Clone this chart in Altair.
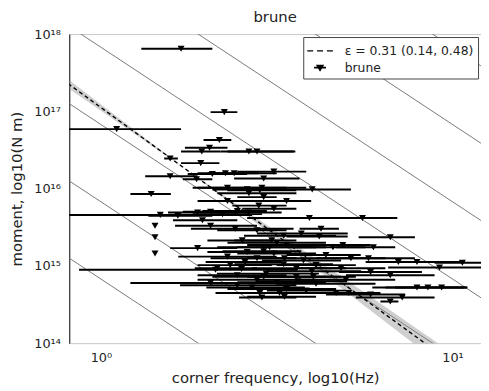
import altair as alt
import pandas as pd

# ---- data (log10 units) ----
log_fc = [0.228, 0.351, 0.045, 0.337, 0.309, 0.287, 0.421, 0.444, 0.197, 0.284,
          0.197, 0.272, 0.317, 0.354, 0.379, 0.463, 0.492, 0.360, 0.421, 0.458,
          0.601, 0.463, 0.143, 0.416, 0.452, 0.169, 0.219, 0.275, 0.312, 0.346,
          0.388, 0.421, 0.492, 0.449, 0.593, 0.744, 0.312, 0.382, 0.154, 0.154,
          0.154, 0.626, 0.520, 0.570, 0.621, 0.823, 0.444, 0.402, 0.486, 0.275,
          0.480, 0.660, 0.688, 0.775, 0.463, 0.528, 0.416, 0.463, 0.492, 0.410,
          0.444, 0.522, 0.576, 0.761, 0.846, 0.899, 1.028, 0.963, 0.331, 0.368,
          0.326, 0.556, 0.612, 0.683, 0.767, 0.312, 0.463, 0.556, 0.604, 0.388,
          0.500, 0.612, 0.444, 0.697, 0.528, 0.899, 0.930, 0.969, 0.452, 0.508,
          0.669, 0.705, 0.767, 0.857, 0.522, 0.458, 0.823, 0.584, 0.360, 0.528,
          0.289, 0.640, 0.711, 0.388, 0.823,
          0.400, 0.470, 0.520, 0.430, 0.560, 0.360, 0.500, 0.600]
log_fc_lo = [0.115, 0.312, -0.118, 0.292, 0.239, 0.228, 0.340, 0.360, 0.180, 0.228,
             0.126, 0.233, 0.247, 0.275, 0.303, 0.379, 0.388, 0.261, 0.331, 0.275,
             0.416, 0.388, 0.084, 0.317, 0.360, -0.118, 0.135, 0.191, 0.233, 0.261,
             0.289, 0.317, 0.402, 0.374, 0.416, 0.612, 0.211, 0.256, 0.154, 0.154,
             0.154, 0.565, 0.407, 0.444, 0.528, 0.733, 0.331, 0.303, 0.379, 0.197,
             0.388, 0.556, 0.584, 0.669, 0.331, 0.416, 0.303, 0.346, 0.388, 0.298,
             0.312, 0.416, 0.458, 0.640, 0.753, 0.817, 0.949, 0.817, 0.267, 0.275,
             -0.062, 0.430, 0.500, 0.556, 0.677, 0.084, 0.317, 0.416, 0.472, 0.225,
             0.388, 0.500, 0.275, 0.556, 0.360, 0.772, 0.809, 0.837, 0.326, 0.388,
             0.556, 0.584, 0.640, 0.725, 0.416, 0.393, 0.795, 0.472, 0.275, 0.444,
             0.205, 0.528, 0.612, 0.275, 0.697,
             0.270, 0.330, 0.380, 0.300, 0.440, 0.220, 0.360, 0.470]
log_fc_hi = [0.317, 0.388, 0.228, 0.371, 0.360, 0.340, 0.548, 0.553, 0.219, 0.337,
             0.275, 0.317, 0.416, 0.449, 0.500, 0.565, 0.584, 0.528, 0.556, 0.584,
             0.711, 0.500, 0.199, 0.486, 0.556, 0.430, 0.317, 0.388, 0.416, 0.458,
             0.472, 0.514, 0.556, 0.528, 0.725, 0.843, 0.444, 0.548, 0.154, 0.154,
             0.154, 0.677, 0.669, 0.702, 0.702, 0.893, 0.528, 0.486, 0.556, 0.388,
             0.612, 0.753, 0.767, 0.837, 0.640, 0.669, 0.542, 0.570, 0.612, 0.514,
             0.556, 0.640, 0.683, 0.893, 0.930, 1.034, 1.100, 1.100, 0.444, 0.486,
             0.556, 0.697, 0.725, 0.809, 0.913, 0.528, 0.640, 0.683, 0.725, 0.556,
             0.640, 0.781, 0.612, 0.837, 0.669, 1.042, 1.034, 1.042, 0.584, 0.640,
             0.781, 0.795, 0.865, 0.949, 0.612, 0.556, 0.846, 0.697, 0.444, 0.598,
             0.388, 0.739, 0.809, 0.528, 0.949,
             0.560, 0.620, 0.660, 0.580, 0.700, 0.500, 0.640, 0.740]
log_m0 = [17.81, 16.99, 16.77, 16.63, 16.53, 16.48, 16.48, 16.48, 16.39, 16.33,
          16.16, 16.12, 16.19, 16.20, 16.20, 16.13, 16.22, 16.01, 15.94, 16.01,
          15.99, 15.89, 15.93, 15.99, 15.98, 15.66, 15.65, 15.69, 15.70, 15.67,
          15.71, 15.69, 15.74, 15.78, 15.62, 15.62, 15.52, 15.48, 15.52, 15.37,
          15.16, 15.48, 15.39, 15.42, 15.38, 15.37, 15.46, 15.33, 15.33, 15.23,
          15.24, 15.24, 15.27, 15.24, 15.24, 15.27, 15.18, 15.19, 15.16, 15.05,
          15.10, 15.10, 15.07, 15.10, 15.05, 15.05, 15.04, 14.98, 14.97, 15.01,
          14.95, 14.97, 15.01, 14.97, 14.92, 14.78, 14.86, 14.86, 14.86, 14.75,
          14.79, 14.77, 14.82, 14.82, 14.70, 14.72, 14.72, 14.72, 14.65, 14.65,
          14.65, 14.65, 14.63, 14.59, 14.60, 14.59, 14.54, 14.68, 15.84, 15.84,
          15.59, 15.14, 15.10, 14.88, 14.88,
          14.96, 14.90, 15.02, 14.72, 14.80, 15.12, 15.30, 14.93]

# constant stress-drop reference lines: log10 M0 = c - 3 log10 fc
stress_c = [14.83, 15.83, 16.83, 17.83, 18.83, 19.83, 20.83]

# fit: log10 M0 = a - (3 + eps) log10 fc, with eps range
eps, eps_lo, eps_hi = 0.31, 0.14, 0.48
fit_a = 17.05
pivot_u = 0.24

x_domain = [-0.09, 1.081]
y_domain = [14, 18]
u_ends = [-0.3, 1.3]

legend_labels = ["\u03b5 = 0.31 (0.14, 0.48)", "brune"]

# ---- tables ----
pts = pd.DataFrame({"u": log_fc, "lo": log_fc_lo, "hi": log_fc_hi, "v": log_m0})

rows = []
for c in stress_c:
    for u in u_ends:
        rows.append({"c": c, "u": u, "v": c - 3 * u})
stress = pd.DataFrame(rows)

fit = pd.DataFrame({"u": u_ends, "v": [fit_a - (3 + eps) * u for u in u_ends]})

pivot_v = fit_a - (3 + eps) * pivot_u
band_rows = []
for u in [u_ends[0], pivot_u, u_ends[1]]:
    e1 = pivot_v - (3 + eps_lo) * (u - pivot_u)
    e2 = pivot_v - (3 + eps_hi) * (u - pivot_u)
    band_rows.append({"u": u, "v1": min(e1, e2), "v2": max(e1, e2)})
band = pd.DataFrame(band_rows)

sup = str.maketrans("0123456789", "\u2070\u00b9\u00b2\u00b3\u2074\u2075\u2076\u2077\u2078\u2079")


def label_expr(vals):
    expr = "''"
    for v in reversed(vals):
        expr = f"datum.value == {v} ? '10{str(v).translate(sup)}' : ({expr})"
    return expr


FONT = "DejaVu Sans"
xs = alt.Scale(domain=x_domain, nice=False, zero=False)
ys = alt.Scale(domain=y_domain, nice=False, zero=False)

x_axis = alt.Axis(values=[0, 1], labelExpr=label_expr([0, 1]), grid=False, ticks=False,
                  domain=False, labelFontSize=13, titleFontSize=15, labelPadding=9,
                  titlePadding=6, labelFont=FONT, titleFont=FONT, titleFontWeight="normal",
                  labelColor="#222", titleColor="#222",
                  title="corner frequency, log10(Hz)")
y_axis = alt.Axis(values=[14, 15, 16, 17, 18], labelExpr=label_expr([14, 15, 16, 17, 18]),
                  grid=False, ticks=False, domain=True, domainColor="#333", domainWidth=1.2,
                  labelFontSize=13, titleFontSize=15, labelPadding=9, titlePadding=9,
                  labelFont=FONT, titleFont=FONT, titleFontWeight="normal",
                  labelColor="#222", titleColor="#222",
                  title="moment, log10(N m)")

lines = alt.Chart(stress).mark_line(color="#7a7a7a", strokeWidth=1, clip=True).encode(
    x=alt.X("u:Q", scale=xs, axis=x_axis),
    y=alt.Y("v:Q", scale=ys, axis=y_axis),
    detail="c:N",
)

band_layer = alt.Chart(band).mark_area(color="#888888", opacity=0.4, clip=True).encode(
    x=alt.X("u:Q", scale=xs),
    y=alt.Y("v1:Q", scale=ys),
    y2="v2:Q",
)

fit_layer = alt.Chart(fit).mark_line(color="black", strokeDash=[4, 3], strokeWidth=1.4, clip=True).encode(
    x=alt.X("u:Q", scale=xs),
    y=alt.Y("v:Q", scale=ys),
)

bars = alt.Chart(pts).mark_rule(color="black", strokeWidth=2, clip=True).encode(
    x=alt.X("lo:Q", scale=xs),
    x2="hi:Q",
    y=alt.Y("v:Q", scale=ys),
)

markers = alt.Chart(pts).mark_point(shape="triangle-down", filled=True, color="black",
                                    size=50, opacity=1, clip=True).encode(
    x=alt.X("u:Q", scale=xs),
    y=alt.Y("v:Q", scale=ys),
)

dash_path = ("M-1.0,-0.075 L-0.4,-0.075 L-0.4,0.075 L-1.0,0.075 Z "
             "M0.0,-0.075 L0.6,-0.075 L0.6,0.075 L0.0,0.075 Z "
             "M1.0,-0.075 L1.6,-0.075 L1.6,0.075 L1.0,0.075 Z")
tri_path = ("M-0.12,-0.3 L0.72,-0.3 L0.3,0.42 Z "
            "M-0.3,-0.08 L0.9,-0.08 L0.9,0.08 L-0.3,0.08 Z")

legend_layer = alt.Chart(pd.DataFrame({"label": legend_labels})).transform_filter("false").mark_point(
    filled=True, color="black", opacity=1, size=400
).encode(
    shape=alt.Shape("label:N",
                    scale=alt.Scale(domain=legend_labels, range=[dash_path, tri_path]),
                    legend=alt.Legend(title=None, orient="top-right", offset=3,
                                      labelFont=FONT, labelFontSize=12.5, labelColor="#222",
                                      symbolSize=400, labelOffset=18, padding=4,
                                      rowPadding=0, strokeColor="#444", fillColor="white",
                                      symbolFillColor="black", symbolStrokeWidth=0,
                                      cornerRadius=0)),
)

chart = alt.layer(lines, band_layer, fit_layer, bars, markers, legend_layer).properties(
    width=417, height=313,
    padding={"left": 2, "top": 0, "right": 0, "bottom": 0},
    title=alt.TitleParams("brune", font=FONT, fontSize=15, fontWeight="normal",
                          color="#222", offset=3),
).configure_view(stroke="#c8c8c8", strokeWidth=1)

chart.save("out.html", embed_options={"renderer": "svg", "actions": False})
